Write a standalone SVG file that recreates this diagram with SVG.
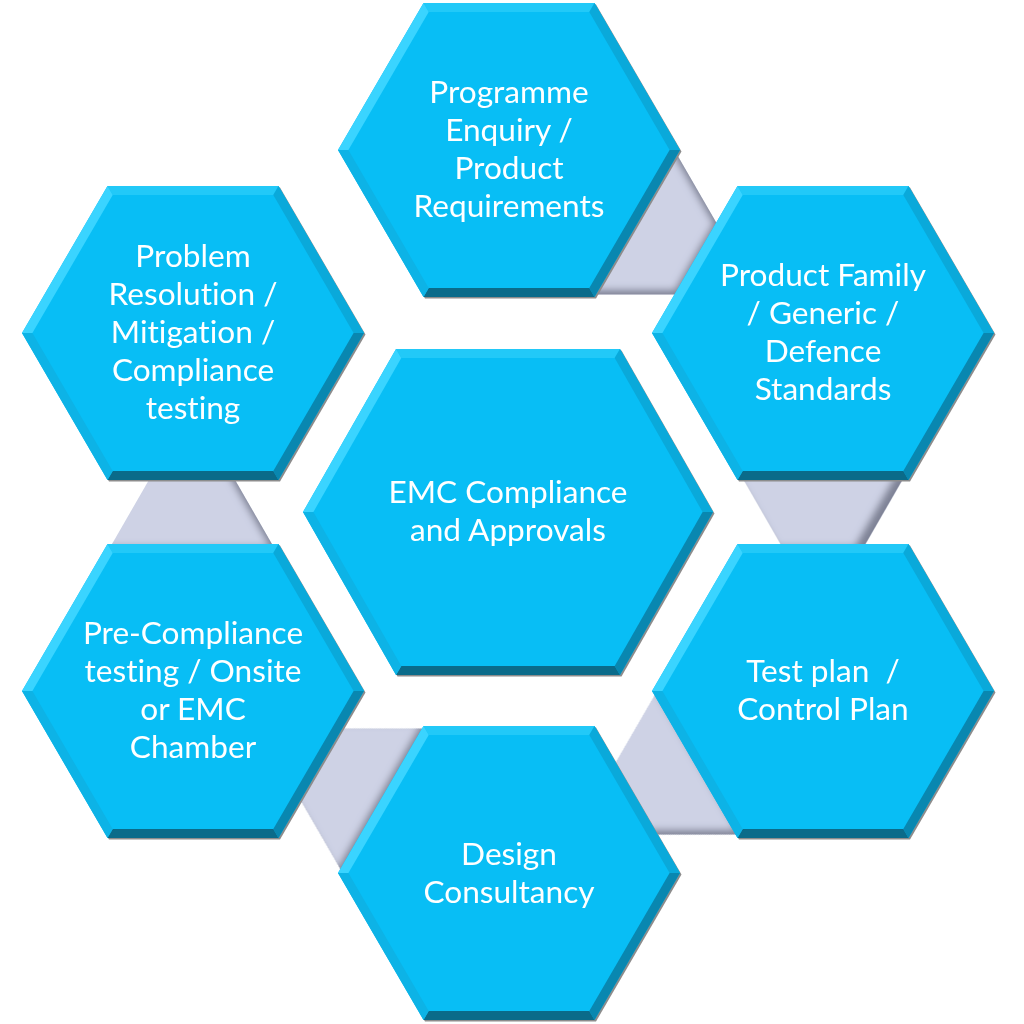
<svg xmlns="http://www.w3.org/2000/svg" xmlns:xlink="http://www.w3.org/1999/xlink" width="1024" height="1024" viewBox="0 0 1024 1024">
  <style>
    .face { fill: #08BEF5; }
    .shadow { fill: #8C8C8C; }
    .fT { fill: #22C9F8; }
    .fUR { fill: #0AA9DA; }
    .fLR { fill: #0987B0; }
    .fB { fill: #0A6B8A; }
    .fLL { fill: #0DB3E6; }
    .fUL { fill: #3AD4FF; }
    .conn { fill: #CED2E5; }
    .label { font-family: Lato, "Liberation Sans", sans-serif; font-size: 31.6px; fill: #FFFFFF; text-anchor: middle; font-variant-ligatures: none; font-feature-settings: "liga" 0, "clig" 0; }
  </style>
  <defs>
    <filter id="innerShadow" x="-10%" y="-10%" width="120%" height="120%">
      <feGaussianBlur in="SourceAlpha" stdDeviation="3.5" result="blur"/>
      <feOffset in="blur" dx="-7" dy="-5" result="off"/>
      <feComposite in="SourceAlpha" in2="off" operator="out" result="mask"/>
      <feFlood flood-color="#4E536A" flood-opacity="0.75" result="col"/>
      <feComposite in="col" in2="mask" operator="in" result="sh"/>
      <feMerge>
        <feMergeNode in="SourceGraphic"/>
        <feMergeNode in="sh"/>
      </feMerge>
    </filter>
    <polygon id="connShape" class="conn" points="-38.2,-40 38.2,-40 84.3,40 -84.3,40"/>
    <g id="hexO">
      <polygon class="shadow" transform="translate(1.5,1.5)" points="-171,0 -85.5,-147 85.5,-147 171,0 85.5,147 -85.5,147"/>
      <polygon class="face" points="-171,0 -85.5,-147 85.5,-147 171,0 85.5,147 -85.5,147"/>
      <polygon class="fT" points="-85.5,-147 85.5,-147 80.3,-138 -80.3,-138"/>
      <polygon class="fUR" points="85.5,-147 171,0 160.6,0 80.3,-138"/>
      <polygon class="fLR" points="171,0 85.5,147 80.3,138 160.6,0"/>
      <polygon class="fB" points="85.5,147 -85.5,147 -80.3,138 80.3,138"/>
      <polygon class="fLL" points="-85.5,147 -171,0 -160.6,0 -80.3,138"/>
      <polygon class="fUL" points="-171,0 -85.5,-147 -80.3,-138 -160.6,0"/>
    </g>
    <g id="hexC">
      <polygon class="shadow" transform="translate(1.5,1.5)" points="-205,0 -112,-163 112,-163 205,0 112,163 -112,163"/>
      <polygon class="face" points="-205,0 -112,-163 112,-163 205,0 112,163 -112,163"/>
      <polygon class="fT" points="-112,-163 112,-163 106.7,-154 -106.7,-154"/>
      <polygon class="fUR" points="112,-163 205,0 194.6,0 106.7,-154"/>
      <polygon class="fLR" points="205,0 112,163 106.7,154 194.6,0"/>
      <polygon class="fB" points="112,163 -112,163 -106.7,154 106.7,154"/>
      <polygon class="fLL" points="-112,163 -205,0 -194.6,0 -106.7,154"/>
      <polygon class="fUL" points="-205,0 -112,-163 -106.7,-154 -194.6,0"/>
    </g>
  </defs>
  <rect width="1024" height="1024" fill="#FFFFFF"/>

  <g id="connectors" filter="url(#innerShadow)">
    <use xlink:href="#connShape" href="#connShape" transform="translate(666,241.5) rotate(120)"/>
    <use xlink:href="#connShape" href="#connShape" transform="translate(823,511.5) rotate(180)"/>
    <use xlink:href="#connShape" href="#connShape" transform="translate(666,781.5) rotate(-120)"/>
    <use xlink:href="#connShape" href="#connShape" transform="translate(351,781.5) rotate(-60)"/>
    <use xlink:href="#connShape" href="#connShape" transform="translate(192,511.5) rotate(0)"/>
  </g>

  <g id="node-programme">
    <use xlink:href="#hexO" href="#hexO" transform="translate(509,150)"/>
    <text class="label"><tspan x="509" y="103">Programme</tspan><tspan x="509" y="141">Enquiry /</tspan><tspan x="509" y="179">Product</tspan><tspan x="509" y="217">Requirements</tspan></text>
  </g>
  <g id="node-product-family">
    <use xlink:href="#hexO" href="#hexO" transform="translate(823,333)"/>
    <text class="label"><tspan x="823" y="286">Product Family</tspan><tspan x="823" y="324">/ Generic /</tspan><tspan x="823" y="362">Defence</tspan><tspan x="823" y="400">Standards</tspan></text>
  </g>
  <g id="node-test-plan">
    <use xlink:href="#hexO" href="#hexO" transform="translate(823,691)"/>
    <text class="label" xml:space="preserve"><tspan x="823" y="682">Test plan  /</tspan><tspan x="823" y="720">Control Plan</tspan></text>
  </g>
  <g id="node-design">
    <use xlink:href="#hexO" href="#hexO" transform="translate(509,873)"/>
    <text class="label"><tspan x="509" y="865">Design</tspan><tspan x="509" y="903">Consultancy</tspan></text>
  </g>
  <g id="node-pre-compliance">
    <use xlink:href="#hexO" href="#hexO" transform="translate(193,691)"/>
    <text class="label"><tspan x="193" y="644">Pre-Compliance</tspan><tspan x="193" y="682">testing / Onsite</tspan><tspan x="193" y="720">or EMC</tspan><tspan x="193" y="758">Chamber</tspan></text>
  </g>
  <g id="node-problem-resolution">
    <use xlink:href="#hexO" href="#hexO" transform="translate(193,333)"/>
    <text class="label"><tspan x="193" y="267">Problem</tspan><tspan x="193" y="305">Resolution /</tspan><tspan x="193" y="343">Mitigation /</tspan><tspan x="193" y="381">Compliance</tspan><tspan x="193" y="419">testing</tspan></text>
  </g>
  <g id="node-emc-centre">
    <use xlink:href="#hexC" href="#hexC" transform="translate(508,512)"/>
    <text class="label"><tspan x="508" y="503">EMC Compliance</tspan><tspan x="508" y="541">and Approvals</tspan></text>
  </g>
</svg>
